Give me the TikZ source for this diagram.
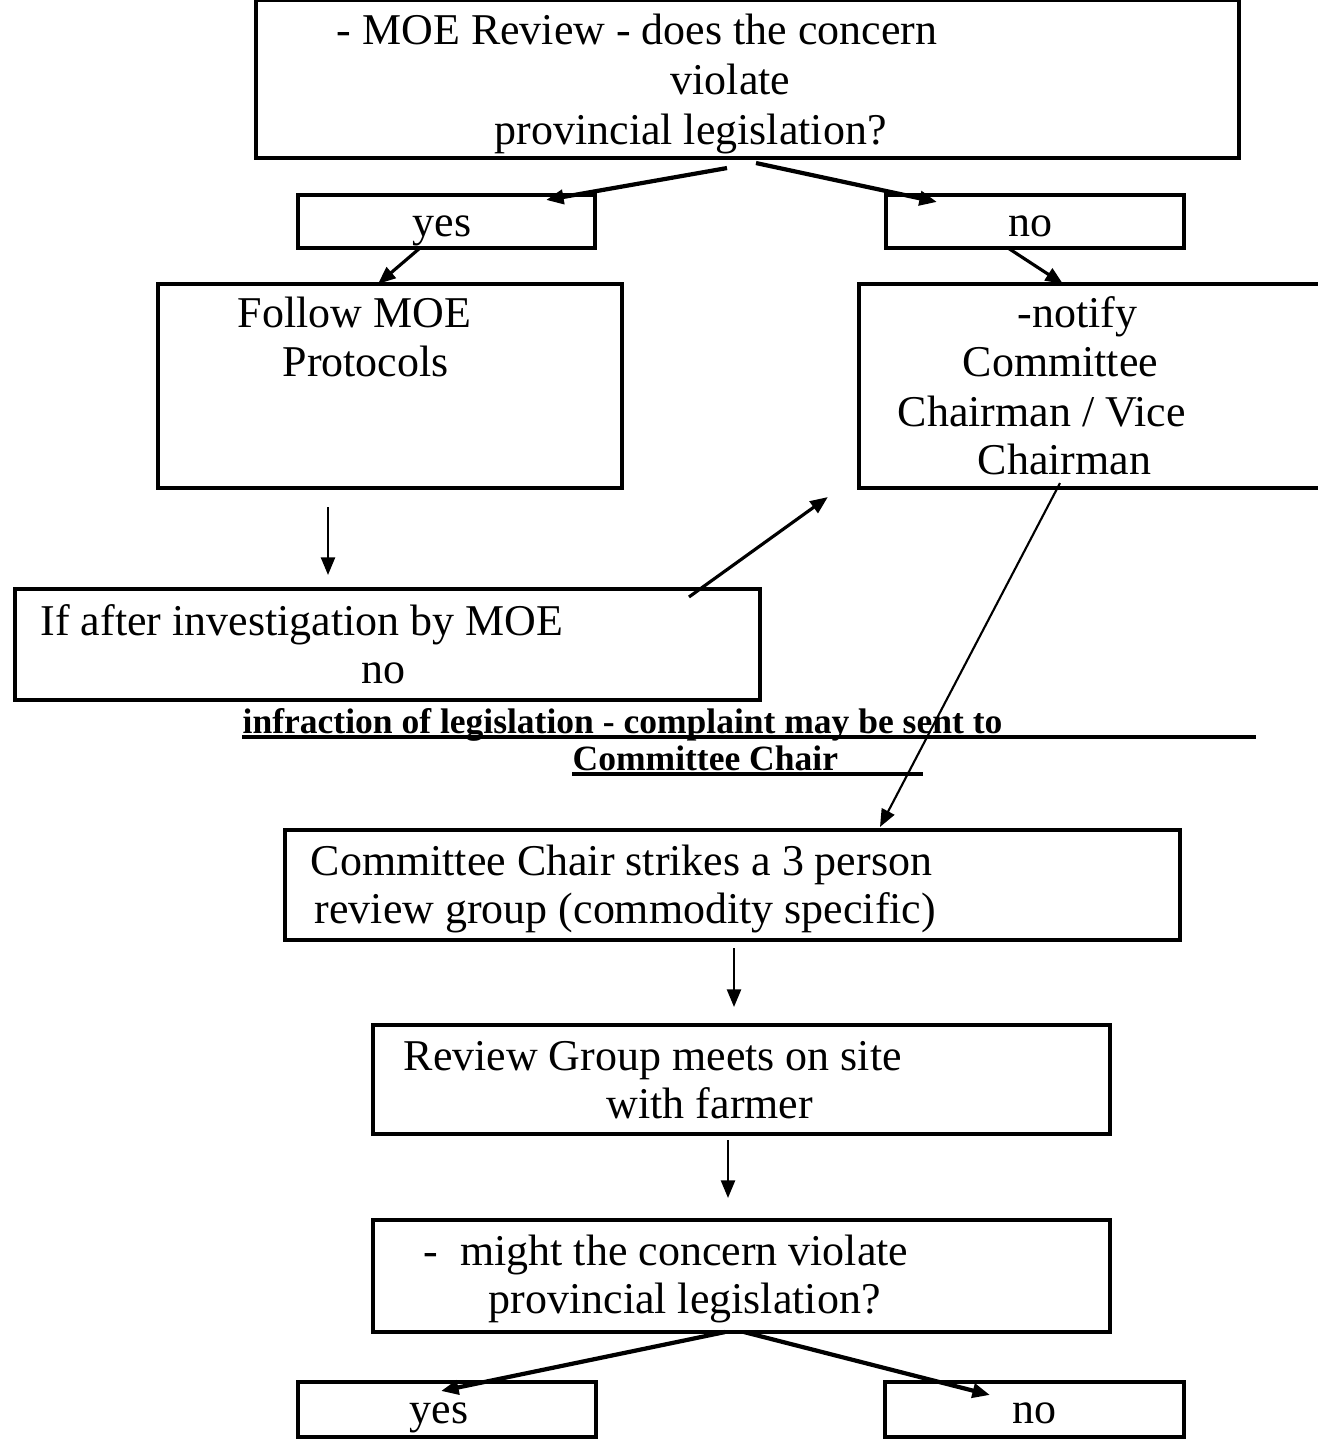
\documentclass[tikz,border=0pt]{standalone}
\usepackage{fontspec}
\setmainfont{Liberation Serif}
\usepackage{tikz}
\usetikzlibrary{arrows.meta, positioning, calc}

\begin{document}
\begin{tikzpicture}[
  x=0.01cm, y=-0.01cm,
  flowbox/.style={
    rectangle,
    draw=black,
    line width=1.1pt,
    inner sep=0pt,
    outer sep=0pt
  },
  txt/.style={inner sep=0pt, anchor=base west, font=\fontsize{12.5pt}{14.2pt}\selectfont},
  boldtxt/.style={inner sep=0pt, anchor=base west, font=\fontsize{10.1pt}{10.5pt}\selectfont\bfseries},
  uline/.style={line width=0.9pt},
  arrow/.style={-{Triangle[length=5pt,width=4pt]}, line width=0.9pt},
  thinarrow/.style={arrow, line width=0.6pt},
  thickarrow/.style={arrow, line width=1.2pt}
]
  \useasboundingbox (0,0) rectangle (1317,1440);

  \node[flowbox, minimum width=9.83cm, minimum height=1.58cm] (top) at (747.5,79) {};
  \node[flowbox, minimum width=2.97cm, minimum height=0.53cm] (yes1) at (446.5,221.5) {};
  \node[flowbox, minimum width=2.98cm, minimum height=0.53cm] (no1) at (1035,221.5) {};
  \node[flowbox, minimum width=4.64cm, minimum height=2.04cm] (follow) at (390,386) {};
  \node[flowbox, minimum width=4.81cm, minimum height=2.04cm] (notify) at (1099.5,386) {};
  \node[flowbox, minimum width=7.45cm, minimum height=1.11cm] (invest) at (387.5,644.5) {};
  \node[flowbox, minimum width=8.95cm, minimum height=1.10cm] (strike) at (732.5,885) {};
  \node[flowbox, minimum width=7.37cm, minimum height=1.09cm] (meet) at (741.5,1079.5) {};
  \node[flowbox, minimum width=7.37cm, minimum height=1.12cm] (might) at (741.5,1276) {};
  \node[flowbox, minimum width=2.98cm, minimum height=0.55cm] (yes2) at (447,1409.5) {};
  \node[flowbox, minimum width=2.99cm, minimum height=0.55cm] (no2) at (1034.5,1409.5) {};

  \node[txt] (topA) at (336,45) {- MOE Review - does the concern};
  \node[txt] (topB) at (670,95) {violate};
  \node[txt] (topC) at (494,145) {provincial legislation?};
  \node[txt] (yesA) at (412,237) {yes};
  \node[txt] (noA) at (1008,237) {no};
  \node[txt] (followA) at (237,328) {Follow MOE};
  \node[txt] (followB) at (282,377) {Protocols};
  \node[txt] (notifyA) at (1017,328) {-notify};
  \node[txt] (notifyB) at (962,377) {Committee};
  \node[txt] (notifyC) at (897,427) {Chairman / Vice};
  \node[txt] (notifyD) at (977,475) {Chairman};
  \node[txt] (investA) at (40,635) {If after investigation by MOE};
  \node[txt] (investB) at (361,683) {no};
  \node[boldtxt] (infraA) at (242,733) {infraction of legislation - complaint may be sent to};
  \node[boldtxt] (infraB) at (572,770) {Committee Chair};
  \node[txt] (strikeA) at (310,875) {Committee Chair strikes a 3 person};
  \node[txt] (strikeB) at (314,923) {review group (commodity specific)};
  \node[txt] (meetA) at (403,1070) {Review Group meets on site};
  \node[txt] (meetB) at (606,1118) {with farmer};
  \node[txt] (mightA) at (423,1265) {-\ \ might the concern violate};
  \node[txt] (mightB) at (488,1313) {provincial legislation?};
  \node[txt] (yesB) at (409,1423) {yes};
  \node[txt] (noB) at (1012,1423) {no};

  \draw[uline] ($(infraA.base west)+(0,4)$) -- ++(1014,0);
  \draw[uline] ($(infraB.base west)+(0,4)$) -- ++(351,0);

  \draw[thickarrow] ($(top.south -| 727,0)+(0,10)$) -- ($(yes1.north -| 546,0)+(0,5)$);
  \draw[thickarrow] ($(top.south -| 756,0)+(0,5)$) -- ($(no1.north -| 937,0)+(0,7)$);
  \draw[arrow] (yes1.south -| 420,0) -- (follow.north -| 378,0);
  \draw[arrow] (no1.south -| 1008,0) -- (notify.north -| 1063,0);
  \draw[thinarrow] ($(follow.south -| 328,0)+(0,19)$) -- ($(invest.north -| 328,0)+(0,-14)$);
  \draw[arrow] ($(invest.north -| 689,0)+(0,8)$) -- ($(notify.south west)+(-31,9)$);
  \draw[thinarrow] ($(notify.south -| 1060,0)+(0,-5)$) -- ($(strike.north -| 880,0)+(0,-3)$);
  \draw[thinarrow] ($(strike.south -| 734,0)+(0,8)$) -- ($(meet.north -| 734,0)+(0,-18)$);
  \draw[thinarrow] ($(meet.south -| 728,0)+(0,6)$) -- ($(might.north -| 728,0)+(0,-22)$);
  \draw[thickarrow] (might.south -| 725,0) -- ($(yes2.north -| 441,0)+(0,9)$);
  \draw[thickarrow] (might.south -| 744,0) -- ($(no2.north -| 990,0)+(0,13)$);
\end{tikzpicture}
\end{document}
